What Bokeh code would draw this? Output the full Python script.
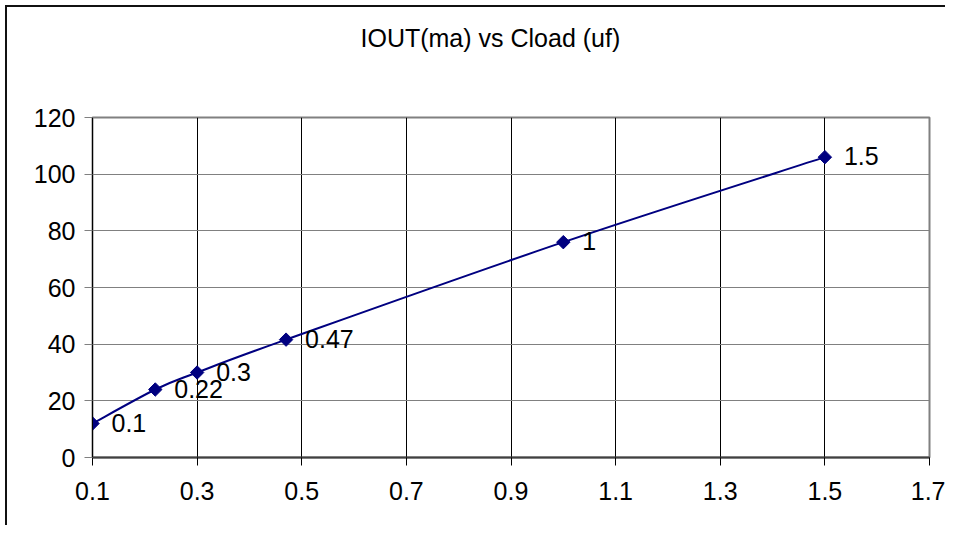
import math
from bokeh.plotting import figure
from bokeh.models import ColumnDataSource, FixedTicker, Range1d, LabelSet, Title
from bokeh.core.properties import value
from bokeh.embed import file_html
from bokeh.resources import INLINE

# Data
cload_uf = [0.1, 0.22, 0.3, 0.47, 1.0, 1.5]
iout_ma = [12, 24, 30, 41.6, 76, 106]
point_labels = ["0.1", "0.22", "0.3", "0.47", "1", "1.5"]

x_ticks = [0.1, 0.3, 0.5, 0.7, 0.9, 1.1, 1.3, 1.5, 1.7]
x_tick_labels = ["0.1", "0.3", "0.5", "0.7", "0.9", "1.1", "1.3", "1.5", "1.7"]
y_ticks = [0, 20, 40, 60, 80, 100, 120]

title_text = "IOUT(ma) vs Cload (uf)"
FONT = "Liberation Sans"

p = figure(width=940, height=520, output_backend="svg", toolbar_location=None,
           x_range=Range1d(0.1, 1.7), y_range=Range1d(0, 120),
           min_border_left=85, min_border_right=18, min_border_top=110, min_border_bottom=70,
           title=title_text)
p.margin = (5, 0, 0, 5)
p.styles = {"border-left": "2px solid #111111", "border-top": "2px solid #111111"}

p.title.align = "left"
p.title.offset = 268
p.title.standoff = 10
p.title.text_font = FONT
p.title.text_font_size = "25px"
p.title.text_font_style = "normal"
p.title.text_color = "black"
# empty spacer between the title and the plot area
p.add_layout(Title(text=" ", text_font_size="1px", standoff=58), "above")

p.background_fill_color = "white"
p.border_fill_color = "white"
p.outline_line_color = "#808080"
p.outline_line_width = 2

# axes
p.xaxis.ticker = FixedTicker(ticks=x_ticks)
p.xaxis.major_label_overrides = {t: s for t, s in zip(x_ticks, x_tick_labels)}
p.yaxis.ticker = FixedTicker(ticks=y_ticks)
for ax in (p.xaxis[0], p.yaxis[0]):
    ax.major_label_text_font = FONT
    ax.major_label_text_font_size = "25px"
    ax.major_label_text_color = "black"
    ax.minor_tick_line_color = None
    ax.major_tick_in = 0
    ax.major_tick_out = 8
p.xaxis.axis_line_color = "#404040"
p.xaxis.axis_line_width = 2
p.xaxis.major_tick_line_color = "black"
p.xaxis.major_label_standoff = 16
p.yaxis.axis_line_color = "black"
p.yaxis.axis_line_width = 1
p.yaxis.major_tick_line_color = "#808080"
p.yaxis.major_label_standoff = 9

p.xgrid.grid_line_color = "black"
p.xgrid.grid_line_width = 1
p.ygrid.grid_line_color = "#808080"
p.ygrid.grid_line_width = 1

# smoothed line (Bezier segments, control points from neighbouring data points)
n = len(cload_uf)
x0, y0, x1, y1, cx0, cy0, cx1, cy1 = [], [], [], [], [], [], [], []
for i in range(n - 1):
    pm = max(i - 1, 0)
    pn = min(i + 2, n - 1)
    x0.append(cload_uf[i]); y0.append(iout_ma[i])
    x1.append(cload_uf[i + 1]); y1.append(iout_ma[i + 1])
    cx0.append(cload_uf[i] + (cload_uf[i + 1] - cload_uf[pm]) / 6)
    cy0.append(iout_ma[i] + (iout_ma[i + 1] - iout_ma[pm]) / 6)
    cx1.append(cload_uf[i + 1] - (cload_uf[pn] - cload_uf[i]) / 6)
    cy1.append(iout_ma[i + 1] - (iout_ma[pn] - iout_ma[i]) / 6)
p.bezier(x0=x0, y0=y0, x1=x1, y1=y1, cx0=cx0, cy0=cy0, cx1=cx1, cy1=cy1,
         line_color="#000080", line_width=2)

src = ColumnDataSource(dict(x=cload_uf, y=iout_ma, lab=point_labels))
p.scatter("x", "y", source=src, marker="square", angle=math.pi / 4, size=9.5,
          fill_color="#000080", line_color="#000080")

labels = LabelSet(x="x", y="y", text="lab", source=src, x_offset=19, y_offset=1,
                  text_align="left", text_baseline="middle",
                  text_font=value(FONT), text_font_size="25px", text_color="black")
p.add_layout(labels)

open("out.html", "w").write(file_html(p, INLINE))
